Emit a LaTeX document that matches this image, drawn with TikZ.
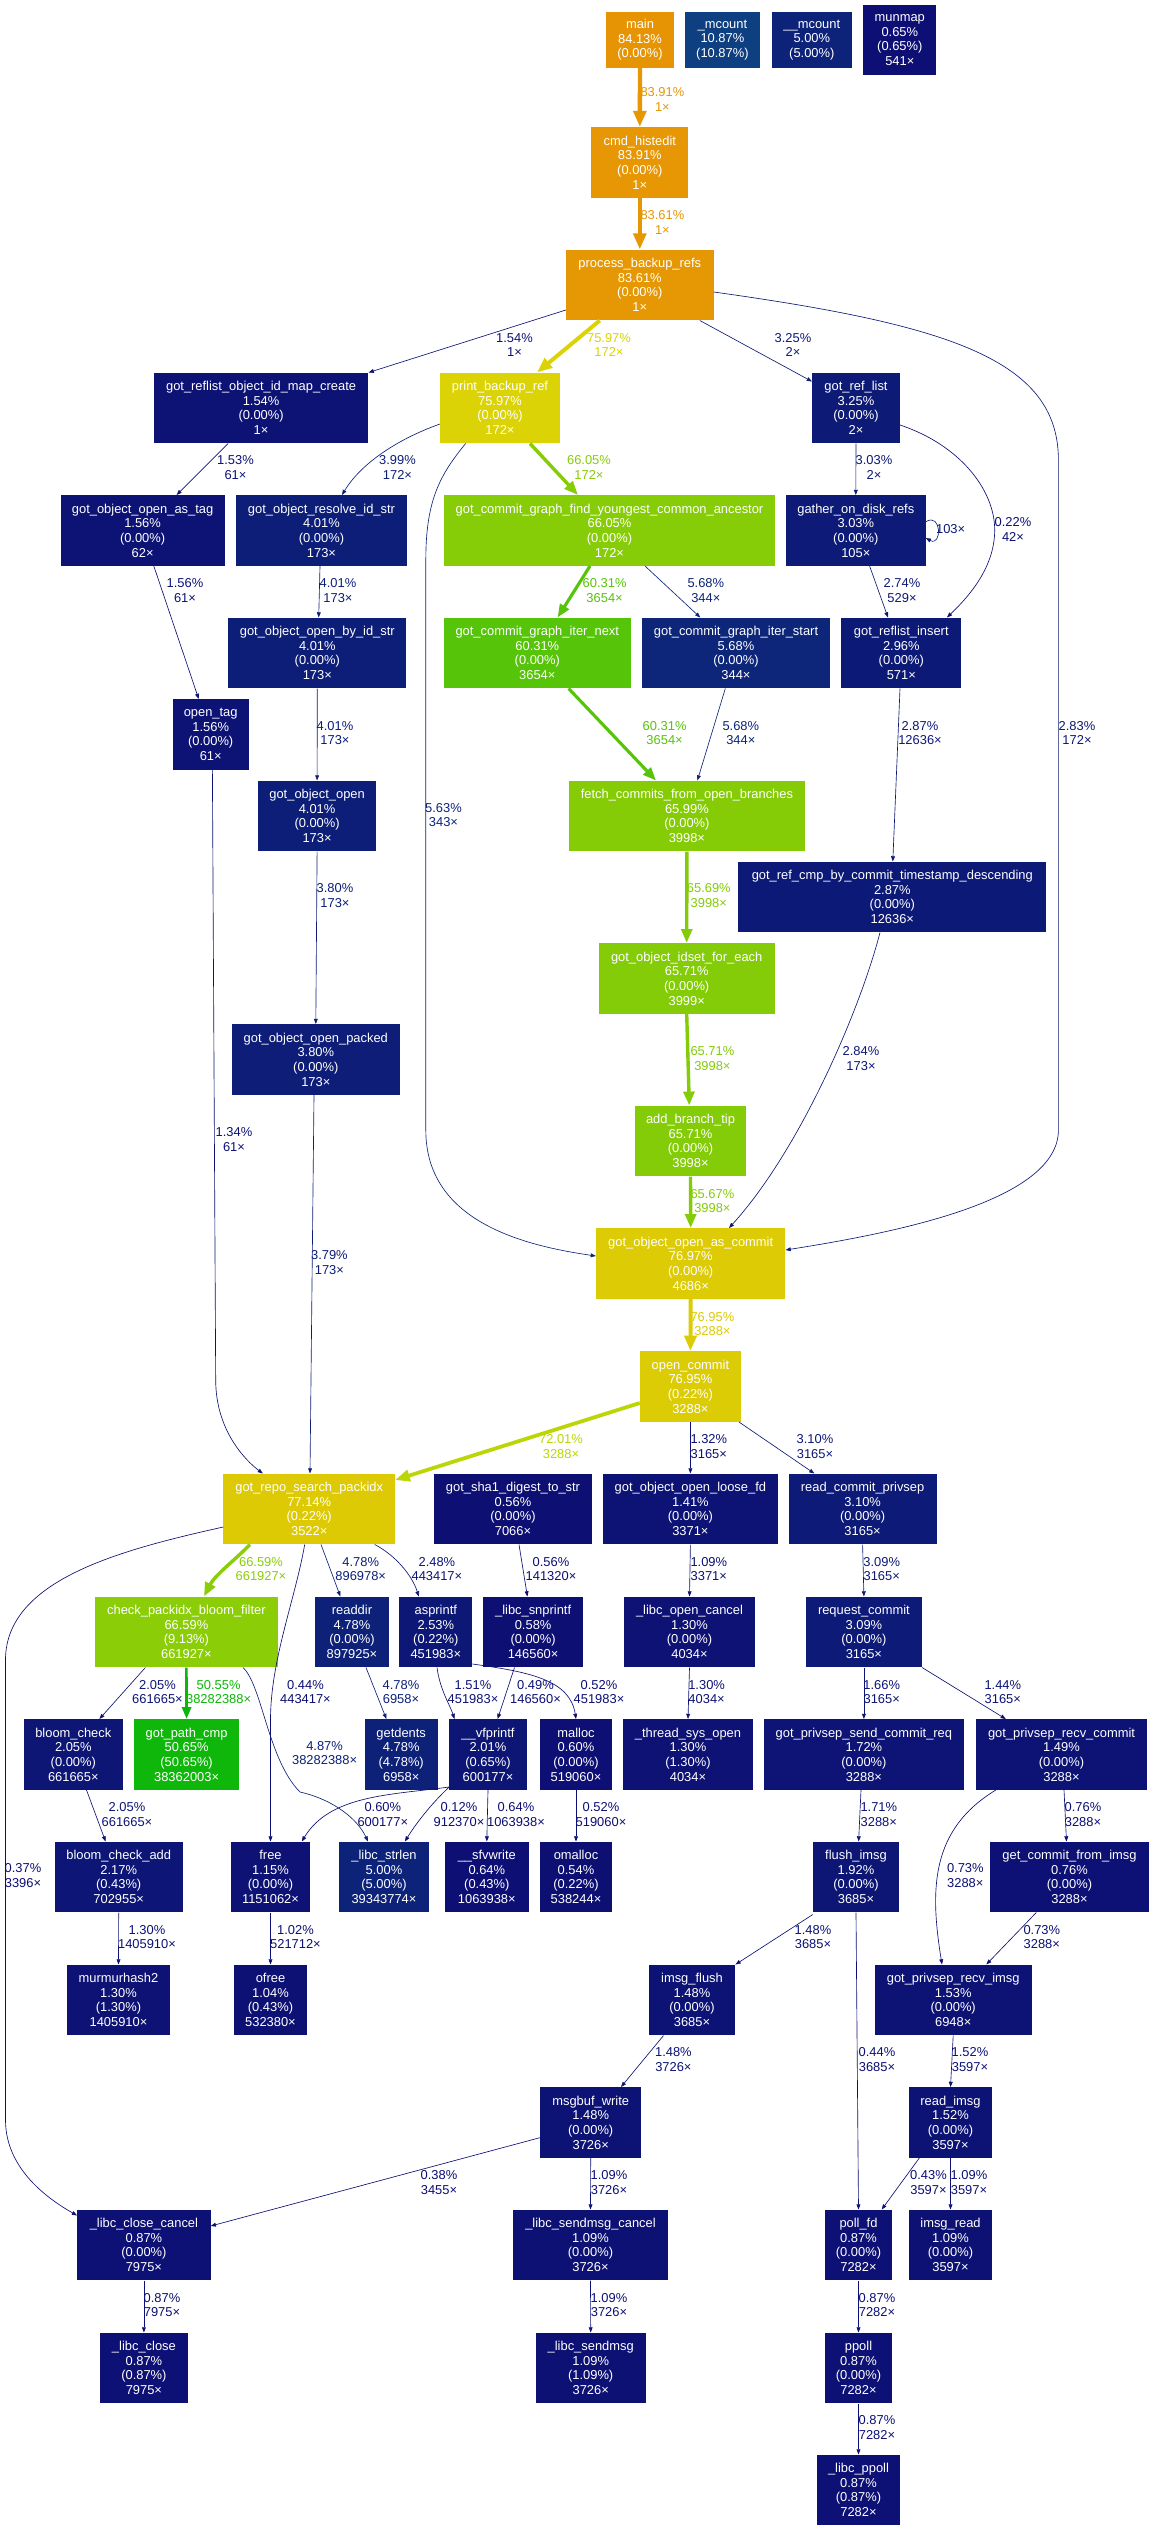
\documentclass[tikz,border=0pt]{standalone}
\usepackage{fontspec}
\setmainfont{Liberation Sans}
\usetikzlibrary{calc,arrows.meta}
\newcommand\wcol[2]{%
  \pgfmathsetmacro\wh{2/3*(1-#2)}%
  \pgfmathsetmacro\ws{0.8+0.2*#2}%
  \pgfmathsetmacro\wl{0.25+0.25*#2}%
  \pgfmathsetmacro\wsv{2*\ws/(1+\ws)}%
  \pgfmathsetmacro\wv{\wl*(1+\ws)}%
  \definecolor{wtmp}{hsb}{\wh,\wsv,\wv}%
  \colorlet{#1}[rgb]{wtmp}%
}
\newcommand\gnode[7]{%
  \wcol{c#1}{#6}%
  \node[fnode, fill=c#1, minimum width=#4pt, minimum height=#5pt] (#1) at (#2,#3) {#7};%
}
\newcommand\gedge[5]{%
  \pgfmathsetmacro\epw{max(4*#2,0.5)}%
  \pgfmathsetmacro\elw{\epw*1.296}%
  \pgfmathsetmacro\eal{6.48*sqrt(\epw)}%
  \pgfmathsetmacro\eaL{\eal+\elw}%
  \pgfmathsetmacro\eaW{0.7*\eal+\elw}%
  \wcol{ec#1}{#2}%
  \draw[line width=\elw pt, draw=ec#1, -{Triangle[length=\eaL pt, width=\eaW pt]}] #5;%
  \node[elabel, text=ec#1] (#1) at #3 {#4};%
}
\tikzset{
  fnode/.style={rectangle, draw=none, inner sep=0pt, text=white, align=center,
    font=\fontsize{12.9pt}{14.6pt}\selectfont},
  elabel/.style={inner sep=0pt, align=center, font=\fontsize{12.9pt}{14.6pt}\selectfont},
}
\begin{document}
\begin{tikzpicture}[x=1pt,y=-1pt]
\fill[white] (0,0) rectangle (1154,2531);
\useasboundingbox (0,0) rectangle (1154,2531);
% nodes
\gnode{main}{640}{40}{67.7}{56}{0.8413}{main\\84.13\%\\(0.00\%)}
\gnode{mcnt}{722.4}{40}{75.8}{56}{0.1087}{\_mcount\\10.87\%\\(10.87\%)}
\gnode{mcntb}{811.8}{40}{79.6}{56}{0.05}{\_\_mcount\\5.00\%\\(5.00\%)}
\gnode{munmap}{899.8}{40}{72.9}{70.6}{0.0065}{munmap\\0.65\%\\(0.65\%)\\541×}
\gnode{cmd}{639.8}{162.5}{96.8}{70.6}{0.8391}{cmd\_histedit\\83.91\%\\(0.00\%)\\1×}
\gnode{pbr}{639.8}{285}{147.5}{70.6}{0.8361}{process\_backup\_refs\\83.61\%\\(0.00\%)\\1×}
\gnode{rlmap}{261.1}{408}{214.6}{70.6}{0.0154}{got\_reflist\_object\_id\_map\_create\\1.54\%\\(0.00\%)\\1×}
\gnode{pbref}{500}{408}{119.6}{70.6}{0.7597}{print\_backup\_ref\\75.97\%\\(0.00\%)\\172×}
\gnode{reflist}{856}{408}{87.6}{70.6}{0.0325}{got\_ref\_list\\3.25\%\\(0.00\%)\\2×}
\gnode{astag}{142.6}{530.5}{163.8}{70.6}{0.0156}{got\_object\_open\_as\_tag\\1.56\%\\(0.00\%)\\62×}
\gnode{resolve}{321.5}{530.5}{171.9}{70.6}{0.0401}{got\_object\_resolve\_id\_str\\4.01\%\\(0.00\%)\\173×}
\gnode{anc}{609.5}{530.5}{331.9}{70.6}{0.6605}{got\_commit\_graph\_find\_youngest\_common\_ancestor\\66.05\%\\(0.00\%)\\172×}
\gnode{gather}{855.8}{530.5}{139.5}{70.6}{0.0303}{gather\_on\_disk\_refs\\3.03\%\\(0.00\%)\\105×}
\gnode{byid}{317.3}{653}{178.1}{70.6}{0.0401}{got\_object\_open\_by\_id\_str\\4.01\%\\(0.00\%)\\173×}
\gnode{inext}{537.3}{653}{187.6}{70.6}{0.6031}{got\_commit\_graph\_iter\_next\\60.31\%\\(0.00\%)\\3654×}
\gnode{istart}{736}{653}{187.8}{70.6}{0.0568}{got\_commit\_graph\_iter\_start\\5.68\%\\(0.00\%)\\344×}
\gnode{rinsert}{901.3}{653}{119.9}{70.6}{0.0296}{got\_reflist\_insert\\2.96\%\\(0.00\%)\\571×}
\gnode{otag}{210.7}{734.5}{76.2}{70.6}{0.0156}{open\_tag\\1.56\%\\(0.00\%)\\61×}
\gnode{gopen}{317.1}{816}{118.2}{70.6}{0.0401}{got\_object\_open\\4.01\%\\(0.00\%)\\173×}
\gnode{fetch}{686.9}{816}{236.6}{70.6}{0.6599}{fetch\_commits\_from\_open\_branches\\65.99\%\\(0.00\%)\\3998×}
\gnode{refcmp}{892.3}{897}{308.1}{70.6}{0.0287}{got\_ref\_cmp\_by\_commit\_timestamp\_descending\\2.87\%\\(0.00\%)\\12636×}
\gnode{idset}{686.7}{978.5}{175.9}{70.6}{0.6571}{got\_object\_idset\_for\_each\\65.71\%\\(0.00\%)\\3999×}
\gnode{packed}{315.8}{1059.5}{167.8}{70.6}{0.038}{got\_object\_open\_packed\\3.80\%\\(0.00\%)\\173×}
\gnode{abtip}{690.5}{1141}{111.5}{70.6}{0.6571}{add\_branch\_tip\\65.71\%\\(0.00\%)\\3998×}
\gnode{ascom}{690.7}{1263.5}{189.2}{70.6}{0.7697}{got\_object\_open\_as\_commit\\76.97\%\\(0.00\%)\\4686×}
\gnode{ocom}{690.4}{1386.5}{100.8}{70.6}{0.7695}{open\_commit\\76.95\%\\(0.22\%)\\3288×}
\gnode{search}{309.2}{1509}{171.5}{70.6}{0.7714}{got\_repo\_search\_packidx\\77.14\%\\(0.22\%)\\3522×}
\gnode{sha}{513}{1509}{158}{70.6}{0.0056}{got\_sha1\_digest\_to\_str\\0.56\%\\(0.00\%)\\7066×}
\gnode{loose}{690.4}{1509}{174.5}{70.6}{0.0141}{got\_object\_open\_loose\_fd\\1.41\%\\(0.00\%)\\3371×}
\gnode{rcp}{862.6}{1509}{148}{70.6}{0.031}{read\_commit\_privsep\\3.10\%\\(0.00\%)\\3165×}
\gnode{bloomf}{186.4}{1632}{183.6}{70.6}{0.6659}{check\_packidx\_bloom\_filter\\66.59\%\\(9.13\%)\\661927×}
\gnode{readdir}{352}{1632}{73.3}{70.6}{0.0478}{readdir\\4.78\%\\(0.00\%)\\897925×}
\gnode{asprintf}{435.8}{1632}{72.9}{70.6}{0.0253}{asprintf\\2.53\%\\(0.22\%)\\451983×}
\gnode{snpr}{533.1}{1632}{99.6}{70.6}{0.0058}{\_libc\_snprintf\\0.58\%\\(0.00\%)\\146560×}
\gnode{ocancel}{689.5}{1632}{130.7}{70.6}{0.013}{\_libc\_open\_cancel\\1.30\%\\(0.00\%)\\4034×}
\gnode{reqc}{863.9}{1632}{116}{70.6}{0.0309}{request\_commit\\3.09\%\\(0.00\%)\\3165×}
\gnode{bloomc}{73.3}{1754.5}{99.3}{70.6}{0.0205}{bloom\_check\\2.05\%\\(0.00\%)\\661665×}
\gnode{pathcmp}{186.6}{1754.5}{105.2}{70.6}{0.5065}{got\_path\_cmp\\50.65\%\\(50.65\%)\\38362003×}
\gnode{getdents}{401.2}{1754.5}{72.9}{70.6}{0.0478}{getdents\\4.78\%\\(4.78\%)\\6958×}
\gnode{vfpr}{488}{1754.5}{77.3}{70.6}{0.0201}{\_\_vfprintf\\2.01\%\\(0.65\%)\\600177×}
\gnode{malloc}{576}{1754.5}{72.7}{70.6}{0.006}{malloc\\0.60\%\\(0.00\%)\\519060×}
\gnode{tsopen}{688}{1754.5}{129.2}{70.6}{0.013}{\_thread\_sys\_open\\1.30\%\\(1.30\%)\\4034×}
\gnode{sendreq}{863.9}{1754.5}{199.8}{70.6}{0.0172}{got\_privsep\_send\_commit\_req\\1.72\%\\(0.00\%)\\3288×}
\gnode{recvc}{1061.5}{1754.5}{171.9}{70.6}{0.0149}{got\_privsep\_recv\_commit\\1.49\%\\(0.00\%)\\3288×}
\gnode{bca}{118.7}{1877}{127.8}{70.6}{0.0217}{bloom\_check\_add\\2.17\%\\(0.43\%)\\702955×}
\gnode{free}{270.5}{1877}{79.5}{70.6}{0.0115}{free\\1.15\%\\(0.00\%)\\1151062×}
\gnode{strlen}{384}{1877}{89.5}{70.6}{0.05}{\_libc\_strlen\\5.00\%\\(5.00\%)\\39343774×}
\gnode{sfv}{486.8}{1877}{83.5}{70.6}{0.0064}{\_\_sfvwrite\\0.64\%\\(0.43\%)\\1063938×}
\gnode{omalloc}{576}{1877}{72.7}{70.6}{0.0054}{omalloc\\0.54\%\\(0.22\%)\\538244×}
\gnode{flush}{856}{1877}{86}{70.6}{0.0192}{flush\_imsg\\1.92\%\\(0.00\%)\\3685×}
\gnode{gcfi}{1069.5}{1877}{159.7}{70.6}{0.0076}{get\_commit\_from\_imsg\\0.76\%\\(0.00\%)\\3288×}
\gnode{murmur}{118.5}{2000}{102.3}{70.6}{0.013}{murmurhash2\\1.30\%\\(1.30\%)\\1405910×}
\gnode{ofree}{270.5}{2000}{72.9}{70.6}{0.0104}{ofree\\1.04\%\\(0.43\%)\\532380×}
\gnode{iflush}{692}{2000}{86.5}{70.6}{0.0148}{imsg\_flush\\1.48\%\\(0.00\%)\\3685×}
\gnode{rimsg}{953.2}{2000}{156.7}{70.6}{0.0153}{got\_privsep\_recv\_imsg\\1.53\%\\(0.00\%)\\6948×}
\gnode{msgbuf}{590.7}{2122.5}{101.4}{70.6}{0.0148}{msgbuf\_write\\1.48\%\\(0.00\%)\\3726×}
\gnode{readimsg}{950.5}{2122.5}{83.9}{70.6}{0.0152}{read\_imsg\\1.52\%\\(0.00\%)\\3597×}
\gnode{ccancel}{143.9}{2245}{133.2}{70.6}{0.0087}{\_libc\_close\_cancel\\0.87\%\\(0.00\%)\\7975×}
\gnode{smcancel}{590.5}{2245}{155.6}{70.6}{0.0109}{\_libc\_sendmsg\_cancel\\1.09\%\\(0.00\%)\\3726×}
\gnode{pollfd}{858.5}{2245}{67.7}{70.6}{0.0087}{poll\_fd\\0.87\%\\(0.00\%)\\7282×}
\gnode{imsgread}{950.5}{2245}{83.9}{70.6}{0.0109}{imsg\_read\\1.09\%\\(0.00\%)\\3597×}
\gnode{lclose}{143.9}{2368}{87.7}{70.6}{0.0087}{\_libc\_close\\0.87\%\\(0.87\%)\\7975×}
\gnode{lsendmsg}{590.7}{2368}{110.3}{70.6}{0.0109}{\_libc\_sendmsg\\1.09\%\\(1.09\%)\\3726×}
\gnode{ppoll}{858.5}{2368}{67.7}{70.6}{0.0087}{ppoll\\0.87\%\\(0.00\%)\\7282×}
\gnode{lppoll}{858.5}{2490}{83.9}{70.6}{0.0087}{\_libc\_ppoll\\0.87\%\\(0.87\%)\\7282×}
% edges
\gedge{l1}{0.8391}{(662.4,99.5)}{83.91\%\\1×}{(main.south) -- (cmd.north)}
\gedge{l2}{0.8361}{(662.4,222.5)}{83.61\%\\1×}{(cmd.south) -- (pbr.north)}
\gedge{l3}{0.0154}{(514.5,345)}{1.54\%\\1×}{($(pbr.west)+(0,25)$) -- (rlmap.north east)}
\gedge{l4}{0.7597}{(609,345)}{75.97\%\\172×}{($(pbr.south)+(-40,0)$) -- ($(pbref.north)+(37,0)$)}
\gedge{l5}{0.0325}{(793,345)}{3.25\%\\2×}{($(pbr.south)+(60,0)$) -- ($(reflist.north west)+(0,9)$)}
\gedge{l6}{0.0283}{(1077,733)}{2.83\%\\172×}{($(pbr.east)+(0,7)$) .. controls (950,325) and (1058.4,360) .. (1058.4,460) -- (1058.4,1130) .. controls (1058.4,1200) and (900,1232) .. ($(ascom.east)+(0,-13.5)$)}
\gedge{l7}{0.0399}{(397.5,467.5)}{3.99\%\\172×}{($(pbref.west)+(0,16)$) .. controls (395,440) and (360,465) .. ($(resolve.north)+(20.5,0)$)}
\gedge{l8}{0.0563}{(443.5,815)}{5.63\%\\343×}{($(pbref.south)+(-34.4,0)$) .. controls (440,475) and (425.8,500) .. (425.8,560) -- (425.8,1130) .. controls (425.8,1220) and (520,1245) .. ($(ascom.west)+(0,-7.5)$)}
\gedge{l9}{0.6605}{(589,467.5)}{66.05\%\\172×}{($(pbref.south)+(30,0)$) -- ($(anc.north)+(-31.5,0)$)}
\gedge{l10}{0.0153}{(235.5,467.5)}{1.53\%\\61×}{($(rlmap.south)+(-33,0)$) -- ($(astag.north)+(34,0)$)}
\gedge{l11}{0.0156}{(185,590.5)}{1.56\%\\61×}{($(astag.south)+(11.2,0)$) -- ($(otag.north)+(-12,0)$)}
\gedge{l12}{0.0401}{(338,590.5)}{4.01\%\\173×}{($(resolve.south)+(-1.5,0)$) -- ($(byid.north)+(1.4,0)$)}
\gedge{l13}{0.0401}{(335,733)}{4.01\%\\173×}{(byid.south) -- (gopen.north)}
\gedge{l14}{0.038}{(335,895.5)}{3.80\%\\173×}{(gopen.south) -- (packed.north)}
\gedge{l15}{0.0379}{(329.4,1262.5)}{3.79\%\\173×}{($(packed.south)+(-1.8,0)$) -- ($(search.north)+(0.8,0)$)}
\gedge{l16}{0.0134}{(234,1139.5)}{1.34\%\\61×}{($(otag.south)+(1.7,0)$) -- (215.7,1380) .. controls (215.7,1430) and (245,1460) .. ($(search.north west)+(39.6,0)$)}
\gedge{l17}{0.6031}{(604.6,590.5)}{60.31\%\\3654×}{($(anc.south)+(-19.5,0)$) -- ($(inext.north)+(20.3,0)$)}
\gedge{l18}{0.0568}{(705.8,590.5)}{5.68\%\\344×}{($(anc.south)+(35.5,0)$) -- ($(istart.north)+(-35.7,0)$)}
\gedge{l19}{0.6031}{(664.6,733)}{60.31\%\\3654×}{($(inext.south)+(31.3,0)$) -- ($(fetch.north)+(-30.9,0)$)}
\gedge{l20}{0.0568}{(740.8,733)}{5.68\%\\344×}{($(istart.south)+(-10.7,0)$) -- ($(fetch.north)+(10.5,0)$)}
\gedge{l21}{0.0303}{(874,467.5)}{3.03\%\\2×}{(reflist.south) -- (gather.north)}
\gedge{l22}{0.0022}{(1013,529.5)}{0.22\%\\42×}{($(reflist.east)+(0,17)$) .. controls (960,445) and (994.7,490) .. (994.7,530) .. controls (994.7,570) and (965,600) .. ($(rinsert.north)+(45.7,0)$)}
\gedge{l23}{0.0303}{(950.6,529)}{103×}{($(gather.east)+(0,-8.8)$) .. controls (942,512) and (942,547) .. ($(gather.east)+(0,7.5)$)}
\gedge{l24}{0.0274}{(902,590.5)}{2.74\%\\529×}{($(gather.south)+(13.8,0)$) -- ($(rinsert.north)+(-13.3,0)$)}
\gedge{l25}{0.0287}{(920,733)}{2.87\%\\12636×}{($(rinsert.south)+(-1.3,0)$) -- ($(refcmp.north)+(0.5,0)$)}
\gedge{l26}{0.6569}{(708.8,895.5)}{65.69\%\\3998×}{(fetch.south) -- (idset.north)}
\gedge{l27}{0.6571}{(712.4,1058.5)}{65.71\%\\3998×}{(idset.south) -- ($(abtip.north)+(-1.2,0)$)}
\gedge{l28}{0.6567}{(712.4,1201)}{65.67\%\\3998×}{(abtip.south) -- (ascom.north)}
\gedge{l29}{0.0284}{(861,1058.5)}{2.84\%\\173×}{($(refcmp.south)+(-12.3,0)$) .. controls (860,1010) and (800,1150) .. ($(ascom.north)+(38.3,0)$)}
\gedge{l30}{0.7695}{(712.4,1324)}{76.95\%\\3288×}{(ascom.south) -- (ocom.north)}
\gedge{l31}{0.7201}{(561,1446.5)}{72.01\%\\3288×}{($(ocom.west)+(0,16.5)$) -- ($(search.east)+(0,-29)$)}
\gedge{l32}{0.0132}{(708.8,1446.5)}{1.32\%\\3165×}{(ocom.south) -- (loose.north)}
\gedge{l33}{0.031}{(815,1446.5)}{3.10\%\\3165×}{($(ocom.south east)+(-2,0)$) -- ($(rcp.north)+(-48.2,0)$)}
\gedge{l34}{0.6659}{(261,1569)}{66.59\%\\661927×}{($(search.south)+(-59.2,0)$) .. controls (235,1560) and (215,1575) .. ($(bloomf.north)+(17.6,0)$)}
\gedge{l35}{0.0478}{(360.7,1569)}{4.78\%\\896978×}{($(search.south)+(11.8,0)$) -- ($(readdir.north)+(-11.6,0)$)}
\gedge{l36}{0.0248}{(436.9,1569)}{2.48\%\\443417×}{($(search.south)+(65.5,0)$) .. controls (395,1555) and (412,1575) .. ($(asprintf.north)+(-17,0)$)}
\gedge{l37}{0.0044}{(305.5,1692)}{0.44\%\\443417×}{($(search.south)+(-4.5,0)$) .. controls (295,1600) and (270.5,1660) .. (270.5,1720) -- (free.north)}
\gedge{l38}{0.0037}{(23,1875.5)}{0.37\%\\3396×}{($(search.west)+(0,18)$) .. controls (120,1550) and (5.5,1580) .. (5.5,1660) -- (5.5,2120) .. controls (5.5,2170) and (50,2200) .. ($(ccancel.north west)+(0,6)$)}
\gedge{l39}{0.0205}{(157.5,1692)}{2.05\%\\661665×}{($(bloomf.south)+(-41,0)$) -- ($(bloomc.north)+(26.1,0)$)}
\gedge{l40}{0.5055}{(218.6,1692)}{50.55\%\\38282388×}{(bloomf.south) -- (pathcmp.north)}
\gedge{l41}{0.0487}{(324.6,1753)}{4.87\%\\38282388×}{($(bloomf.south)+(56.6,0)$) .. controls (262,1685) and (268,1760) .. (300,1792) .. controls (335,1800) and (358,1820) .. ($(strlen.north)+(-16,0)$)}
\gedge{l42}{0.0478}{(401,1692)}{4.78\%\\6958×}{($(readdir.south)+(14,0)$) -- ($(getdents.north)+(-14.8,0)$)}
\gedge{l43}{0.0151}{(473,1692)}{1.51\%\\451983×}{($(asprintf.south)+(1.2,0)$) .. controls (440,1690) and (450,1705) .. ($(vfpr.north)+(-33.5,0)$)}
\gedge{l44}{0.0052}{(599,1692)}{0.52\%\\451983×}{($(asprintf.east)+(0,32)$) .. controls (530,1672) and (570,1680) .. (malloc.north)}
\gedge{l45}{0.0056}{(551,1569)}{0.56\%\\141320×}{($(sha.south)+(6,0)$) -- ($(snpr.north)+(-5.7,0)$)}
\gedge{l46}{0.0049}{(535.5,1692)}{0.49\%\\146560×}{($(snpr.south)+(-18.6,0)$) -- ($(vfpr.north)+(9.6,0)$)}
\gedge{l47}{0.006}{(382.8,1814.5)}{0.60\%\\600177×}{($(vfpr.south west)+(0,-3)$) .. controls (390,1795) and (330,1795) .. ($(free.north)+(31.3,0)$)}
\gedge{l48}{0.0012}{(459,1814.5)}{0.12\%\\912370×}{($(vfpr.south west)+(0,-3)$) .. controls (430,1805) and (415,1825) .. ($(strlen.north)+(20.9,0)$)}
\gedge{l49}{0.0064}{(516,1814.5)}{0.64\%\\1063938×}{(vfpr.south) -- (sfv.north)}
\gedge{l50}{0.0052}{(601,1814.5)}{0.52\%\\519060×}{(malloc.south) -- (omalloc.north)}
\gedge{l51}{0.0205}{(127,1814.5)}{2.05\%\\661665×}{($(bloomc.south)+(13.2,0)$) -- ($(bca.north)+(-13.1,0)$)}
\gedge{l52}{0.013}{(147,1937)}{1.30\%\\1405910×}{(bca.south) -- (murmur.north)}
\gedge{l53}{0.0102}{(295.5,1937)}{1.02\%\\521712×}{(free.south) -- (ofree.north)}
\gedge{l54}{0.013}{(706.6,1692)}{1.30\%\\4034×}{(ocancel.south) -- (tsopen.north)}
\gedge{l55}{0.0309}{(881.7,1569)}{3.09\%\\3165×}{(rcp.south) -- (reqc.north)}
\gedge{l56}{0.0109}{(708.8,1569)}{1.09\%\\3371×}{(loose.south) -- (ocancel.north)}
\gedge{l57}{0.0166}{(881.7,1692)}{1.66\%\\3165×}{(reqc.south) -- (sendreq.north)}
\gedge{l58}{0.0144}{(1002.8,1692)}{1.44\%\\3165×}{(reqc.south east) -- ($(recvc.north)+(-55.7,0)$)}
\gedge{l59}{0.0171}{(878.8,1814.5)}{1.71\%\\3288×}{($(sendreq.south)+(-2.9,0)$) -- ($(flush.north)+(2.6,0)$)}
\gedge{l60}{0.0073}{(965.3,1875.5)}{0.73\%\\3288×}{($(recvc.south)+(-65.7,0)$) .. controls (930,1830) and (930,1890) .. ($(rimsg.north)+(-11.2,0)$)}
\gedge{l61}{0.0076}{(1083,1814.5)}{0.76\%\\3288×}{($(recvc.south)+(2.5,0)$) -- ($(gcfi.north)+(-3,0)$)}
\gedge{l62}{0.0073}{(1041.8,1937)}{0.73\%\\3288×}{($(gcfi.south)+(-33.2,0)$) -- ($(rimsg.north)+(33.1,0)$)}
\gedge{l63}{0.0148}{(813,1937)}{1.48\%\\3685×}{($(flush.south west)+(0,2)$) -- (iflush.north east)}
\gedge{l64}{0.0044}{(877,2059.5)}{0.44\%\\3685×}{(flush.south) -- (pollfd.north)}
\gedge{l65}{0.0148}{(673.4,2059.5)}{1.48\%\\3726×}{($(iflush.south)+(-28.5,0)$) -- ($(msgbuf.north)+(30.3,0)$)}
\gedge{l66}{0.0152}{(970,2059.5)}{1.52\%\\3597×}{(rimsg.south) -- (readimsg.north)}
\gedge{l67}{0.0038}{(439,2182.5)}{0.38\%\\3455×}{($(msgbuf.west)+(0,15.2)$) -- ($(ccancel.east)+(0,-19)$)}
\gedge{l68}{0.0109}{(609,2182.5)}{1.09\%\\3726×}{(msgbuf.south) -- (smcancel.north)}
\gedge{l69}{0.0109}{(609,2305)}{1.09\%\\3726×}{(smcancel.south) -- (lsendmsg.north)}
\gedge{l70}{0.0043}{(928.5,2182.5)}{0.43\%\\3597×}{($(readimsg.south)+(-31.2,0)$) -- ($(pollfd.north)+(23.2,0)$)}
\gedge{l71}{0.0109}{(969,2182.5)}{1.09\%\\3597×}{(readimsg.south) -- (imsgread.north)}
\gedge{l72}{0.0087}{(877,2305)}{0.87\%\\7282×}{(pollfd.south) -- (ppoll.north)}
\gedge{l73}{0.0087}{(877,2427.5)}{0.87\%\\7282×}{(ppoll.south) -- (lppoll.north)}
\gedge{l74}{0.0087}{(162,2305)}{0.87\%\\7975×}{(ccancel.south) -- (lclose.north)}
\end{tikzpicture}
\end{document}
